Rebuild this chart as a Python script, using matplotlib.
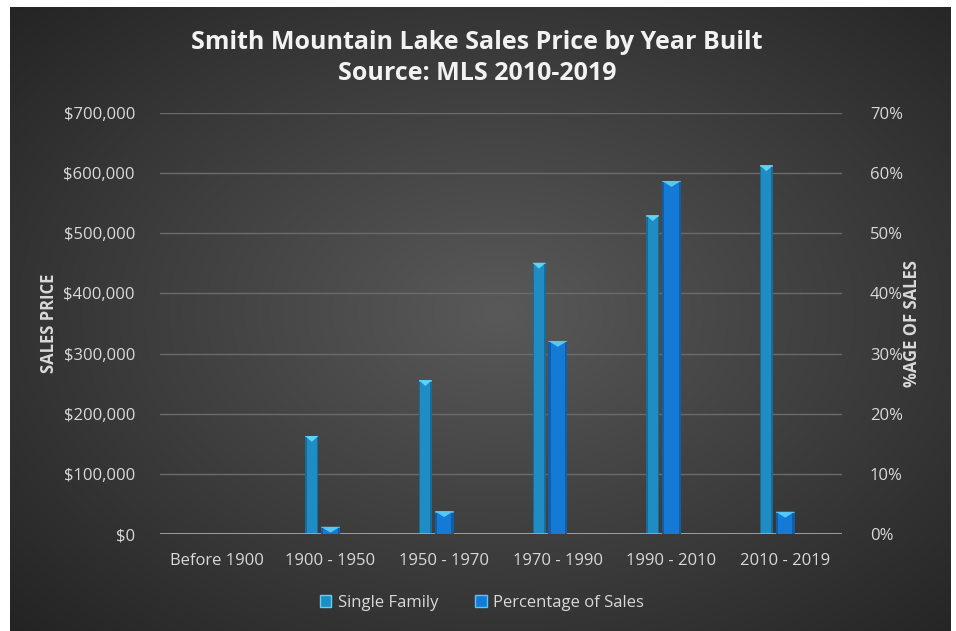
#!/usr/bin/env python3
"""
Smith Mountain Lake 成交价 / 建造年份 双轴柱状图
"""

import matplotlib
matplotlib.use('Agg')
import matplotlib.pyplot as plt
import numpy as np
from matplotlib.patches import Patch, Polygon, Rectangle
from matplotlib.ticker import FuncFormatter

plt.rcParams['font.family'] = ['Open Sans', 'DejaVu Sans']

# 数据
categories = ['Before 1900', '1900 - 1950', '1950 - 1970', '1970 - 1990', '1990 - 2010', '2010 - 2019']
single_family = [0, 163000, 256000, 451000, 530000, 613000]
pct_of_sales = [0.0, 0.012, 0.038, 0.321, 0.587, 0.037]

SF_COLOR = '#1f8cc3'
PCT_COLOR = '#1579d6'
TEXT_COLOR = '#d9d9d9'

W, H = 956, 631
fig = plt.figure(figsize=(W / 100, H / 100), dpi=100, facecolor='white')

# 深色径向渐变背景（底边延伸出画布，避免留白）
bg = fig.add_axes([10 / W, -0.02, 941 / W, 624 / H + 0.02])
bg.set_axis_off()
yy, xx = np.mgrid[0:1:300j, 0:1:450j]
r = np.sqrt(((xx - 0.52) / 0.75) ** 2 + ((yy - 0.48) / 0.75) ** 2)
shade = np.clip(0.35 - 0.22 * r, 0.14, 0.35)
bg.add_patch(Rectangle((0, 0), 1, 1, color='#262626', lw=0, zorder=0))
bg.imshow(np.dstack([shade] * 3), aspect='auto', extent=[0, 1, 0, 1],
          interpolation='bicubic', zorder=1)
bg.set_xlim(0, 1)
bg.set_ylim(0, 1)

ax = fig.add_axes([160 / W, 1 - 534 / H, 682 / W, 421 / H])
ax.patch.set_alpha(0)
ax2 = ax.twinx()
ax2.patch.set_alpha(0)

x = np.arange(len(categories))


def bevel_bars(axis, bars, color, light, dark, cap_frac):
    # 给每根柱子加侧边暗条和顶部三角高光
    y0, y1 = axis.get_ylim()
    cap = (y1 - y0) * cap_frac
    for b in bars:
        h = b.get_height()
        if h <= 0:
            continue
        bx, bw = b.get_x(), b.get_width()
        edge = bw * 0.12
        axis.add_patch(Rectangle((bx, 0), edge, h, color=dark, lw=0, zorder=3))
        axis.add_patch(Rectangle((bx + bw - edge, 0), edge, h, color=dark, lw=0, zorder=3))
        c = min(cap, h)
        axis.add_patch(Polygon([(bx, h), (bx + bw, h), (bx + bw / 2, h - c)],
                               closed=True, color=light, lw=0, zorder=4))
        axis.add_patch(Rectangle((bx, h - c * 0.25), bw, c * 0.25, color=light, lw=0, zorder=4, alpha=0.6))


ax.set_xlim(-0.5, len(categories) - 0.5)
ax.set_ylim(0, 700000)
ax2.set_ylim(0, 0.7)

sf_bars = ax.bar(x - 0.165, single_family, width=0.115, color=SF_COLOR, zorder=2)
pct_bars = ax2.bar(x, pct_of_sales, width=0.167, color=PCT_COLOR, zorder=2)
bevel_bars(ax, sf_bars, SF_COLOR, '#5fd3f5', '#176d99', 0.014)
bevel_bars(ax2, pct_bars, PCT_COLOR, '#55c8f7', '#115ea8', 0.014)

# 网格线与坐标轴
ax.set_yticks(np.arange(0, 700001, 100000))
ax2.set_yticks(np.arange(0, 0.71, 0.1))
ax.yaxis.grid(True, color='#6b6b6b', lw=1.0, zorder=0)
ax.set_axisbelow(True)
for a in (ax, ax2):
    for s in a.spines.values():
        s.set_visible(False)
ax.axhline(0, color='#a6a6a6', lw=2.0, zorder=5)

ax.yaxis.set_major_formatter(FuncFormatter(lambda v, p: f'${v:,.0f}'))
ax2.yaxis.set_major_formatter(FuncFormatter(lambda v, p: f'{v * 100:.0f}%'))
ax.set_xticks(x)
ax.set_xticklabels(categories)
ax.tick_params(axis='y', length=0, pad=18, labelsize=12, labelcolor=TEXT_COLOR)
ax.tick_params(axis='x', length=0, pad=14, labelsize=12, labelcolor=TEXT_COLOR)
ax2.tick_params(axis='y', length=0, pad=20, labelsize=12, labelcolor=TEXT_COLOR)

# 轴标题
fig.text(49 / W, 1 - 323 / H, 'SALES PRICE', color=TEXT_COLOR, fontsize=12,
         fontweight='bold', rotation=90, ha='center', va='center')
fig.text(912 / W, 1 - 324 / H, '%AGE OF SALES', color=TEXT_COLOR, fontsize=12,
         fontweight='bold', rotation=90, ha='center', va='center')

fig.text(0.5 - 1 / W, 1 - 58 / H, 'Smith Mountain Lake Sales Price by Year Built\nSource: MLS 2010-2019',
         ha='center', va='center', color='#f2f2f2', fontsize=18, fontweight='bold',
         linespacing=1.3)

handles = [Patch(facecolor=SF_COLOR, edgecolor='#5fd3f5', label='Single Family'),
           Patch(facecolor=PCT_COLOR, edgecolor='#55c8f7', label='Percentage of Sales')]
fig.legend(handles=handles, loc='center', bbox_to_anchor=(0.5 + 4 / W, 1 - 603 / H), ncol=2,
           frameon=False, fontsize=12, labelcolor=TEXT_COLOR, handlelength=0.7,
           handleheight=0.7, handletextpad=0.4, columnspacing=2.2)

fig.savefig('out.png', dpi=100, facecolor='white')
